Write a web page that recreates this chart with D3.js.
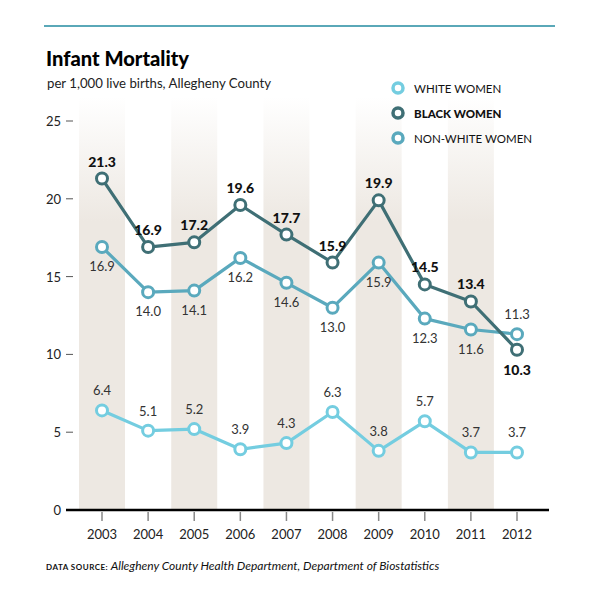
<!DOCTYPE html>
<html><head><meta charset="utf-8">
<script src="https://cdn.jsdelivr.net/npm/d3@7"></script>
<style>body{margin:0;background:#fff}svg{display:block}</style>
</head><body>
<script>
const years = [2003,2004,2005,2006,2007,2008,2009,2010,2011,2012];
const white = [6.4,5.1,5.2,3.9,4.3,6.3,3.8,5.7,3.7,3.7];
const black = [21.3,16.9,17.2,19.6,17.7,15.9,19.9,14.5,13.4,10.3];
const nonWhite = [16.9,14.0,14.1,16.2,14.6,13.0,15.9,12.3,11.6,11.3];
const yTicks = [0,5,10,15,20,25];
const shadedYears = [2003,2005,2007,2009,2011];
const seriesNames = ["WHITE WOMEN","BLACK WOMEN","NON-WHITE WOMEN"];

const W=591,H=598;
const svg=d3.select("body").append("svg").attr("width",W).attr("height",H);
const font="Lato, 'Open Sans', sans-serif";

const x=d3.scalePoint().domain(years).range([102,517]);
const y=d3.scaleLinear().domain([0,25]).range([510,121]);
const bw=46;

const defs=svg.append("defs");
const g=defs.append("linearGradient").attr("id","band").attr("x1",0).attr("x2",0).attr("y1",0).attr("y2",1);
g.append("stop").attr("offset","0").attr("stop-color","#ede8e2").attr("stop-opacity",0);
g.append("stop").attr("offset","0.3").attr("stop-color","#ede8e2").attr("stop-opacity",1);
g.append("stop").attr("offset","1").attr("stop-color","#ede8e2").attr("stop-opacity",1);

// top rule
svg.append("line").attr("x1",44).attr("x2",555).attr("y1",26).attr("y2",26).attr("stroke","#5aa8b8").attr("stroke-width",2);

svg.append("text").attr("x",46).attr("y",66).attr("font-family",font)
  .attr("font-weight",900).attr("font-size",21).attr("fill","#000").attr("textLength",143).attr("lengthAdjust","spacingAndGlyphs").text("Infant Mortality");
svg.append("text").attr("x",47).attr("y",88).attr("font-family",font).attr("font-size",13.2).attr("fill","#222").text("per 1,000 live births, Allegheny County");

// bands
svg.append("g").selectAll("rect").data(shadedYears).join("rect")
  .attr("x",d=>x(d)-bw/2).attr("width",bw).attr("y",97).attr("height",510-97).attr("fill","url(#band)");

// y axis
const ya=svg.append("g");
ya.selectAll("text").data(yTicks).join("text").attr("x",61).attr("y",d=>y(d)+5).attr("text-anchor","end")
  .attr("font-family",font).attr("font-size",13).attr("fill","#222").text(d=>d);
ya.selectAll("line").data(yTicks.filter(d=>d>0)).join("line").attr("x1",66).attr("x2",73).attr("y1",d=>y(d)).attr("y2",d=>y(d)).attr("stroke","#555").attr("stroke-width",1);

// baseline
svg.append("line").attr("x1",66).attr("x2",549).attr("y1",y(0)).attr("y2",y(0)).attr("stroke","#000").attr("stroke-width",2.5);
// x ticks
const xa=svg.append("g");
xa.selectAll("line").data(years).join("line").attr("x1",d=>x(d)).attr("x2",d=>x(d)).attr("y1",512).attr("y2",521).attr("stroke","#888").attr("stroke-width",1.5);
xa.selectAll("text").data(years).join("text").attr("x",d=>x(d)).attr("y",539).attr("text-anchor","middle")
  .attr("font-family",font).attr("font-size",13).attr("fill","#222").text(d=>d);

const colors={white:"#74cde0",black:"#3f6f75",non:"#5aa9bd"};
function drawSeries(vals,color){
  const line=d3.line().x((d,i)=>x(years[i])).y(d=>y(d));
  svg.append("path").datum(vals).attr("d",line).attr("fill","none").attr("stroke",color).attr("stroke-width",3.2).attr("stroke-linejoin","round");
  svg.append("g").selectAll("circle").data(vals).join("circle").attr("cx",(d,i)=>x(years[i])).attr("cy",d=>y(d)).attr("r",5.5)
    .attr("fill","#fff").attr("stroke",color).attr("stroke-width",3);
}
drawSeries(white,colors.white);
drawSeries(nonWhite,colors.non);
drawSeries(black,colors.black);

// labels
svg.append("g").selectAll("text").data(white).join("text").attr("x",(d,i)=>x(years[i])).attr("y",d=>y(d)-15).attr("text-anchor","middle")
  .attr("font-family",font).attr("font-size",13).attr("fill","#333").text(d=>d.toFixed(1));
svg.append("g").selectAll("text").data(nonWhite).join("text").attr("x",(d,i)=>x(years[i])).attr("y",(d,i)=>i===9?y(d)-15:y(d)+24).attr("text-anchor","middle")
  .attr("font-family",font).attr("font-size",13).attr("fill","#333").text(d=>d.toFixed(1));
svg.append("g").selectAll("text").data(black).join("text").attr("x",(d,i)=>x(years[i])).attr("y",(d,i)=>i===9?y(d)+25:y(d)-12).attr("text-anchor","middle")
  .attr("font-family",font).attr("font-weight",900).attr("font-size",14).attr("fill","#111").text(d=>d.toFixed(1));

// legend
const lc=[colors.white,colors.black,colors.non];
const lg=svg.append("g");
seriesNames.forEach((n,i)=>{
  const yy=88+i*25;
  lg.append("circle").attr("cx",398).attr("cy",yy).attr("r",5).attr("fill","#fff").attr("stroke",lc[i]).attr("stroke-width",3.5);
  lg.append("text").attr("x",414).attr("y",yy+4.5).attr("font-family",font).attr("font-size",11.5).attr("font-weight",i===1?900:400).attr("fill","#111").text(n);
});

// source
const src=svg.append("text").attr("x",46).attr("y",570).attr("font-family",font).attr("fill","#111");
src.append("tspan").attr("font-size",8).attr("font-weight",700).attr("letter-spacing",0.5).text("DATA SOURCE: ");
src.append("tspan").attr("font-size",12).attr("font-style","italic").text("Allegheny County Health Department, Department of Biostatistics");
</script>
</body></html>
